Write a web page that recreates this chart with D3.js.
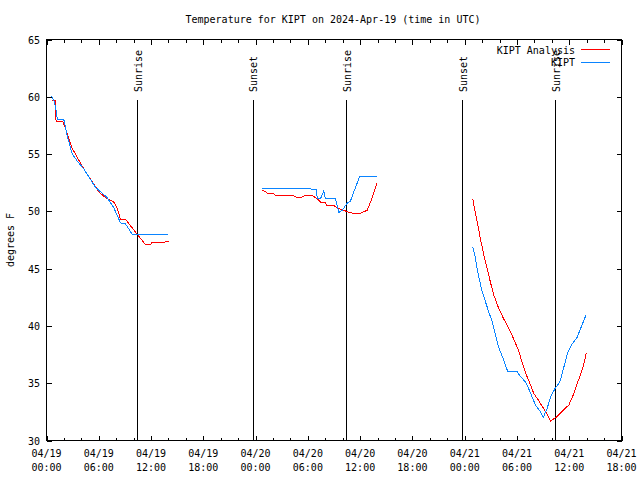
<!DOCTYPE html>
<html><head><meta charset="utf-8">
<script src="https://cdn.jsdelivr.net/npm/d3@7"></script>
<style>
body{margin:0;background:#fff;}
svg text{font-family:"DejaVu Sans Mono",monospace;font-size:10px;fill:#000;}
</style></head>
<body><svg id="c" width="640" height="480"></svg>
<script>
const title = "Temperature for KIPT on 2024-Apr-19 (time in UTC)";
const yLabel = "degrees F";
const startTime = "2024-04-19T00:00:00Z";
const endTime = "2024-04-21T18:00:00Z";
const yTicks = [30, 35, 40, 45, 50, 55, 60, 65];
const seriesNames = ["KIPT Analysis", "KIPT"];
const seriesColors = ["#ff0000", "#0a84ff"];

// hours since 04/19 00:00 UTC (null = gap)
const analysisHours = [0.65,1.03,1.03,1.11,1.91,2.38,2.95,4.28,6.0,6.77,7.73,8.11,8.49,9.07,10.41,11.36,11.94,12.13,13.46,14.04,
  null,
  24.68,24.95,25.33,25.98,26.28,28.2,28.77,29.15,29.72,30.11,30.49,31.07,31.45,32.02,32.14,32.98,33.36,34.13,34.7,35.47,35.85,36.24,36.81,37.19,37.96,
  null,
  48.93,49.16,49.43,49.81,50.19,50.58,50.96,51.34,51.92,52.49,53.26,53.83,54.21,54.6,54.98,55.48,55.93,56.39,56.89,57.47,57.85,58.23,58.62,59.38,59.96,60.53,60.91,61.29,61.68,61.95];
const analysisTemps = [59.7,59.7,58.8,57.8,57.8,56.8,55.5,53.7,51.7,51.2,50.8,50.3,49.3,49.3,48.0,47.1,47.1,47.3,47.3,47.4,
  null,
  51.9,51.8,51.6,51.6,51.4,51.4,51.2,51.2,51.4,51.4,51.4,51.1,50.8,50.8,50.5,50.5,50.3,50.1,49.9,49.8,49.8,49.9,50.1,50.8,52.5,
  null,
  51.1,50.1,49.1,47.6,46.2,45.0,43.8,42.7,41.5,40.6,39.5,38.5,37.8,36.8,35.9,35.0,34.1,33.6,33.0,32.3,31.7,31.9,32.1,32.7,33.1,34.1,35.0,35.7,36.7,37.6];

const obsHours = [0.57,0.84,1.15,1.23,1.99,2.38,2.95,3.52,4.28,5.62,6.97,7.73,8.49,9.07,9.84,14.0,
  null,
  24.68,30.11,30.61,30.99,31.07,31.45,31.83,32.02,33.17,33.55,33.94,34.51,34.89,35.47,35.93,37.96,
  null,
  48.93,49.16,49.43,49.7,50.0,50.39,50.77,51.15,51.53,51.92,52.49,52.95,54.02,54.4,54.98,55.36,55.74,56.13,56.7,57.01,57.47,57.85,58.42,58.92,59.38,59.84,60.22,60.91,61.37,61.95];
const obsTemps = [60.1,59.7,58.7,58.0,58.0,56.6,55.0,54.4,53.7,52.1,51.2,50.3,49.0,48.9,48.0,48.0,
  null,
  52.0,52.0,51.9,51.9,51.1,51.1,51.8,51.1,51.1,49.9,50.1,50.7,50.9,52.1,53.0,53.0,
  null,
  46.9,46.2,45.0,44.0,43.0,42.1,41.2,40.4,39.2,38.1,37.0,36.0,36.0,35.6,35.1,34.5,33.8,33.1,32.5,32.0,32.8,33.8,34.6,35.1,36.4,37.7,38.3,39.0,39.9,41.0];

const sunTimes = ["2024-04-19T10:30:00Z","2024-04-19T23:45:00Z","2024-04-20T10:28:00Z","2024-04-20T23:46:00Z","2024-04-21T10:26:00Z"];
const sunLabels = ["Sunrise","Sunset","Sunrise","Sunset","Sunrise"];
const sunLineTop = 59.7;

const L = 46.5, R = 621.5, T = 39.5, B = 440.5;
const svg = d3.select("#c");
const t0 = new Date(startTime), t1 = new Date(endTime);
const x = d3.scaleUtc().domain([t0, t1]).range([L, R]);
const y = d3.scaleLinear().domain([30, 65]).range([B, T]);
const hToDate = h => new Date(t0.getTime() + h * 3600e3);

const g = svg.append("g").attr("shape-rendering", "crispEdges");
const majorX = d3.utcHour.every(6).range(t0, new Date(t1.getTime() + 1));
const minorX = d3.utcHour.every(2).range(t0, new Date(t1.getTime() + 1));

const fmtD = d3.utcFormat("%m/%d"), fmtH = d3.utcFormat("%H:%M");
function axisStyle(sel) { sel.select(".domain").remove(); sel.selectAll("line").attr("stroke", "#000"); }
g.append("g").attr("transform", `translate(0,${B})`).call(d3.axisTop(x).tickValues(minorX).tickSize(3).tickFormat("")).call(axisStyle);
g.append("g").attr("transform", `translate(0,${B})`).call(d3.axisTop(x).tickValues(majorX).tickSize(5).tickFormat("")).call(axisStyle);
g.append("g").attr("transform", `translate(0,${T})`).call(d3.axisBottom(x).tickValues(minorX).tickSize(3).tickFormat("")).call(axisStyle);
g.append("g").attr("transform", `translate(0,${T})`).call(d3.axisBottom(x).tickValues(majorX).tickSize(5).tickFormat("")).call(axisStyle);
g.append("g").attr("transform", `translate(${L},0)`).call(d3.axisRight(y).tickValues(yTicks).tickSize(5).tickFormat("")).call(axisStyle);
g.append("g").attr("transform", `translate(${R},0)`).call(d3.axisLeft(y).tickValues(yTicks).tickSize(5).tickFormat("")).call(axisStyle);

svg.append("g").selectAll("text").data(yTicks).join("text")
  .attr("x", 40).attr("y", d => y(d) + 4).attr("text-anchor", "end").text(d => d);
const xl = svg.append("g").selectAll("text").data(majorX).join("text")
  .attr("text-anchor", "middle");
xl.append("tspan").attr("x", d => x(d)).attr("y", 457).text(d => fmtD(d));
xl.append("tspan").attr("x", d => x(d)).attr("y", 471).text(d => fmtH(d));

g.append("rect").attr("x", L).attr("y", T).attr("width", R - L).attr("height", B - T)
  .attr("fill", "none").attr("stroke", "#000");

sunTimes.forEach((s, i) => {
  const xs = x(new Date(s));
  g.append("line").attr("x1", xs).attr("x2", xs).attr("y1", y(sunLineTop)).attr("y2", B).attr("stroke", "#000");
  svg.append("text").attr("transform", `translate(${xs + 4},92) rotate(-90)`).attr("text-anchor", "start").text(sunLabels[i]);
});

function drawSeries(hours, temps, color) {
  const pts = hours.map((h, i) => ({h, v: temps[i]}));
  const line = d3.line().defined(d => d.h !== null && d.v !== null)
    .x(d => x(hToDate(d.h))).y(d => y(d.v));
  svg.append("path").datum(pts).attr("d", line).attr("fill", "none")
    .attr("stroke", color).attr("stroke-width", 1).attr("shape-rendering", "crispEdges");
}
drawSeries(analysisHours, analysisTemps, seriesColors[0]);
drawSeries(obsHours, obsTemps, seriesColors[1]);

seriesNames.forEach((n, i) => {
  const ly = 49.5 + i * 12.5;
  svg.append("text").attr("x", 575).attr("y", ly + 4).attr("text-anchor", "end").text(n);
  g.append("line").attr("x1", 581).attr("x2", 610).attr("y1", ly).attr("y2", ly).attr("stroke", seriesColors[i]);
});

svg.append("text").attr("x", 333).attr("y", 23).attr("text-anchor", "middle").text(title);
svg.append("text").attr("transform", "translate(14,240) rotate(-90)").attr("text-anchor", "middle").text(yLabel);
</script></body></html>
